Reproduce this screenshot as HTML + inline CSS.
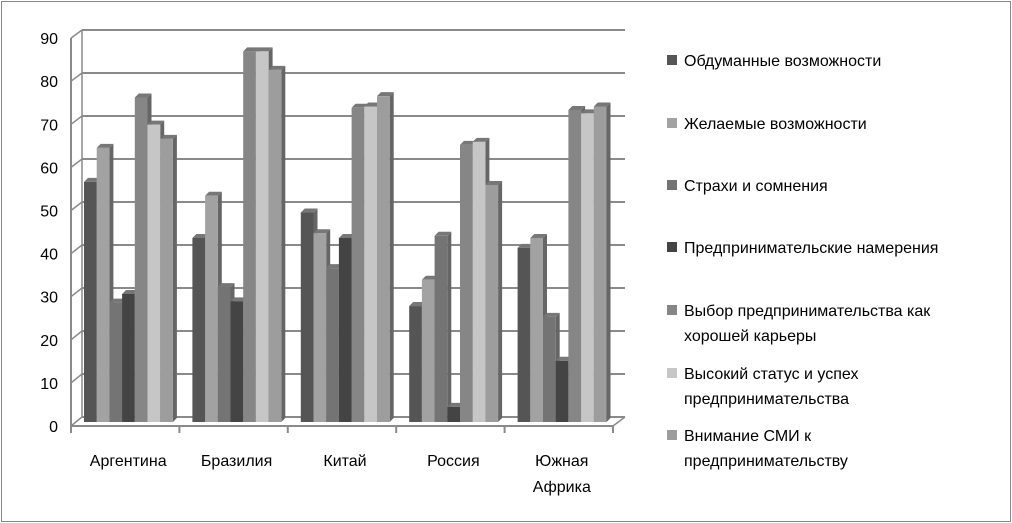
<!DOCTYPE html>
<html><head><meta charset="utf-8"><style>
html,body{margin:0;padding:0;background:#fff}
svg{display:block;font-family:"Liberation Sans",sans-serif}
</style></head><body>
<svg id="chart" width="1012" height="523" viewBox="0 0 1012 523">
<rect x="1.5" y="1.5" width="1009" height="520" fill="#fff" stroke="#888" stroke-width="1"/>
<g id="grid"></g><g id="bars"></g><g id="axes"></g><g id="legend"></g>
</svg>
<script>
const categories = [["Аргентина"],["Бразилия"],["Китай"],["Россия"],["Южная","Африка"]];
const seriesNames = [["Обдуманные возможности"],["Желаемые возможности"],["Страхи и сомнения"],["Предпринимательские намерения"],["Выбор предпринимательства как","хорошей карьеры"],["Высокий статус и успех","предпринимательства"],["Внимание СМИ к","предпринимательству"]];
const s1 = [55.7, 42.7, 48.6, 26.9, 40.4];
const s2 = [63.6, 52.5, 43.8, 33.0, 42.7];
const s3 = [27.7, 31.3, 35.7, 43.2, 24.4];
const s4 = [29.7, 28.0, 42.7, 3.5, 14.2];
const s5 = [75.3, 86.0, 72.9, 64.3, 72.4];
const s6 = [69.0, 86.0, 73.2, 65.0, 71.6];
const s7 = [65.7, 81.7, 75.6, 55.0, 73.2];
const yTicks = [0,10,20,30,40,50,60,70,80,90];
const colors = ["#555555","#a2a2a2","#747474","#444444","#868686","#c6c6c6","#9d9d9d"];
const series = [s1,s2,s3,s4,s5,s6,s7];
const NS="http://www.w3.org/2000/svg";
function mk(tag,attrs,parent){const e=document.createElementNS(NS,tag);for(const k in attrs)e.setAttribute(k,attrs[k]);parent.appendChild(e);return e;}
const x0=71, catW=108.4, base=422, unit=4.31, dx=11, dy=-9;
const yFront=v=>426-v*4.31;
const yBack=v=>417-v*4.3;
const yBar=v=>base-v*unit;
const grid=document.getElementById('grid'), bars=document.getElementById('bars'), axes=document.getElementById('axes'), legend=document.getElementById('legend');
// back wall gridlines
yTicks.forEach(t=>{
  const g=mk('line',{x1:82,x2:625,y1:yBack(t),y2:yBack(t),stroke:'#8a8a8a','stroke-width':2},grid);
  
  
  const d=mk('line',{x1:71,y1:yFront(t),x2:82,y2:yBack(t),stroke:'#8a8a8a','stroke-width':1.5},grid);
  
  
  const lb=mk('text',{x:58,y:yFront(t)+6,'text-anchor':'end','font-size':16,fill:'#000'},axes);
  lb.textContent=t;
  
  
});
mk('line',{x1:82,y1:yBack(90),x2:82,y2:yBack(0),stroke:'#8a8a8a','stroke-width':1.5},grid);
mk('line',{x1:625,y1:417,x2:613,y2:426,stroke:'#8a8a8a','stroke-width':1.5},grid);
// bars
categories.forEach((c,ci)=>{
  series.forEach((s,si)=>{
    const bx=x0+ci*catW+13+si*12.7, w=12.7, top=yBar(s[ci]);
    const g=mk('g',{},bars);
    
    
    mk('polygon',{points:`${bx+w},${top} ${bx+w+4},${top-4} ${bx+w+4},${base-4} ${bx+w},${base}`,fill:'#666'},g);
    mk('polygon',{points:`${bx},${top} ${bx+4},${top-4} ${bx+w+4},${top-4} ${bx+w},${top}`,fill:'#777'},g);
    mk('rect',{x:bx,y:top,width:w,height:base-top,fill:colors[si]},g);
  });
  const lines=c;
  lines.forEach((l,li)=>{
    const t=mk('text',{x:x0+ci*catW+catW/2+3,y:466+li*26,'text-anchor':'middle','font-size':16,fill:'#000'},axes);
    t.textContent=l;
    
    
  });
});
// front axes
mk('line',{x1:71,y1:38,x2:71,y2:426,stroke:'#8a8a8a','stroke-width':2},axes);
mk('line',{x1:71,y1:426,x2:613,y2:426,stroke:'#8a8a8a','stroke-width':2},axes);
for(let i=0;i<=categories.length;i++){mk('line',{x1:x0+i*catW,y1:426,x2:x0+i*catW,y2:433,stroke:'#8a8a8a','stroke-width':2},axes);}
// legend
const ly=[[66],[129],[191],[253],[316,341],[379,404],[441,466]];
seriesNames.forEach((n,i)=>{
  const g=mk('g',{},legend);
  
  
  mk('rect',{x:667,y:ly[i][0]-11,width:10,height:10,fill:colors[i]},g);
  n.forEach((l,li)=>{const t=mk('text',{x:684,y:ly[i][li],'font-size':16,fill:'#000'},g);t.textContent=l;});
});
</script>
</body></html>
